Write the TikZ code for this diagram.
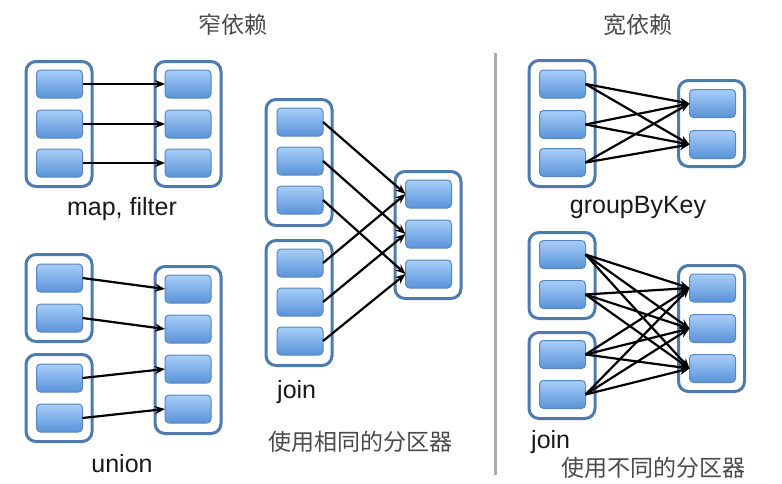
\documentclass[tikz,border=0pt]{standalone}
\usepackage{fontspec}
\setmainfont{Liberation Sans}
\newfontfamily\cjk{Noto Sans CJK SC}
\usetikzlibrary{arrows.meta}
\definecolor{contborder}{HTML}{4D7BB0}
\definecolor{partborder}{HTML}{5A87BD}
\definecolor{parttop}{HTML}{A8CEF8}
\definecolor{partbot}{HTML}{5892D8}
\definecolor{cjkgray}{HTML}{4A4A4A}
\definecolor{divgray}{HTML}{AAAAAA}
\tikzset{
  cont/.style={draw=contborder, line width=3pt, rounded corners=10pt, fill=white,
    minimum width=66pt, inner sep=0pt, outer sep=0pt},
  part/.style={draw=partborder, line width=1pt, rounded corners=4pt,
    top color=parttop, bottom color=partbot,
    minimum width=46pt, minimum height=28pt, inner sep=0pt, outer sep=0pt},
  dep/.style={-{Stealth[length=10pt,width=8pt]}, line width=2.2pt, black},
  lbl/.style={font=\fontsize{25}{30}\selectfont, text=black!90, inner sep=0pt},
  cjklbl/.style={font=\cjk\fontsize{23}{28}\selectfont, text=cjkgray, inner sep=0pt},
}
\begin{document}
\begin{tikzpicture}[x=1pt,y=-1pt]
\useasboundingbox (0,0) rectangle (782,483);

% titles
\node[cjklbl] (t1) at (233,25) {窄依赖};
\node[cjklbl] (t2) at (637.5,25) {宽依赖};
\draw[divgray, line width=3pt] (495,53) -- (495,475);

% ---------- map, filter ----------
\node[cont, minimum height=125pt] (mfL) at (59,124) {};
\node[cont, minimum height=125pt] (mfR) at (188,124) {};
\foreach \i/\y in {1/84,2/124,3/163}{
  \node[part] (mfa\i) at (59.5,\y) {};
  \node[part] (mfb\i) at (188,\y) {};
}
\foreach \i in {1,2,3}{ \draw[dep] (mfa\i.east) -- (mfb\i.west); }
\node[lbl] (mflabel) at (122,209) {map, filter};

% ---------- union ----------
\node[cont, minimum height=87pt] (unL1) at (59,298) {};
\node[cont, minimum height=87pt] (unL2) at (59,398) {};
\node[cont, minimum height=167pt] (unR) at (188,350) {};
\foreach \i/\y in {1/278,2/318,3/378,4/418}{ \node[part] (una\i) at (59.5,\y) {}; }
\foreach \i/\y in {1/289,2/329,3/369,4/409}{ \node[part] (unb\i) at (188,\y) {}; }
\foreach \i in {1,2,3,4}{ \draw[dep] (una\i.east) -- (unb\i.west); }
\node[lbl] (unlabel) at (122,464) {union};

% ---------- join (same partitioner) ----------
\node[cont, minimum height=126pt] (jsL1) at (299,162.5) {};
\node[cont, minimum height=125pt] (jsL2) at (299,303) {};
\node[cont, minimum height=127pt] (jsR) at (428,235) {};
\foreach \i/\y in {1/122,2/161,3/200}{ \node[part] (jsa\i) at (300,\y) {}; }
\foreach \i/\y in {1/263,2/302,3/341}{ \node[part] (jsc\i) at (300,\y) {}; }
\foreach \i/\y in {1/194,2/234,3/274}{ \node[part] (jsb\i) at (428.5,\y) {}; }
\foreach \i in {1,2,3}{
  \draw[dep] (jsa\i.east) -- (jsb\i.west);
  \draw[dep] (jsc\i.east) -- (jsb\i.west);
}
\node[lbl, anchor=west] (jslabel) at (277,392) {join};
\node[cjklbl] (jscjk) at (360,442) {使用相同的分区器};

% ---------- groupByKey ----------
\node[cont, minimum height=126pt] (gbL) at (562,123.5) {};
\node[cont, minimum height=86pt] (gbR) at (711.5,123.5) {};
\foreach \i/\y in {1/84,2/124.5,3/162.5}{ \node[part] (gba\i) at (562.5,\y) {}; }
\foreach \i/\y in {1/103.5,2/144.5}{ \node[part] (gbb\i) at (712.5,\y) {}; }
\foreach \i in {1,2,3}{ \foreach \j in {1,2}{ \draw[dep] (gba\i.east) -- (gbb\j.west); } }
\node[lbl] (gblabel) at (638,207) {groupByKey};

% ---------- join (different partitioner) ----------
\node[cont, minimum height=86pt] (jdL1) at (562,275.5) {};
\node[cont, minimum height=86pt] (jdL2) at (562,375.5) {};
\node[cont, minimum height=126pt] (jdR) at (711.5,328.5) {};
\foreach \i/\y in {1/254.5,2/294.5,3/354.5,4/394.5}{ \node[part] (jda\i) at (562.5,\y) {}; }
\foreach \i/\y in {1/288,2/328.5,3/368.5}{ \node[part] (jdb\i) at (712.5,\y) {}; }
\foreach \i in {1,2,3,4}{ \foreach \j in {1,2,3}{ \draw[dep] (jda\i.east) -- (jdb\j.west); } }
\node[lbl, anchor=west] (jdlabel) at (531,442) {join};
\node[cjklbl] (jdcjk) at (653.5,468) {使用不同的分区器};
\end{tikzpicture}
\end{document}
